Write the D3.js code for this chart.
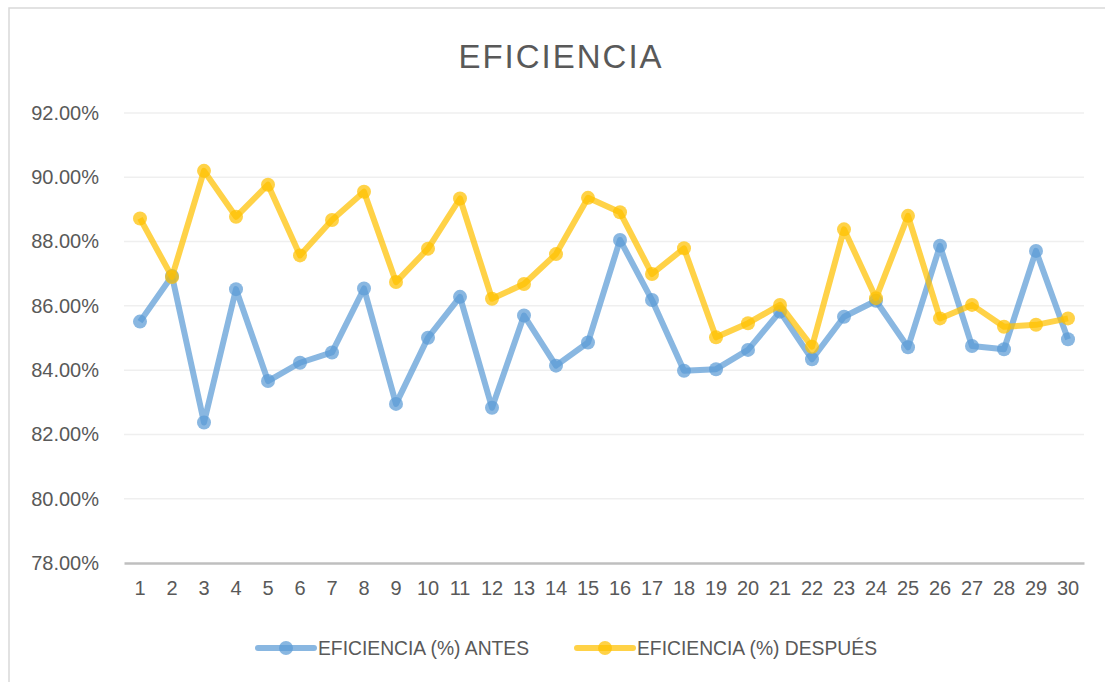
<!DOCTYPE html>
<html>
<head>
<meta charset="utf-8">
<script src="https://cdn.jsdelivr.net/npm/d3@7"></script>
<style>
  body { margin: 0; background: #fff; }
  svg { display: block; font-family: "Liberation Sans", "Open Sans", sans-serif; }
</style>
</head>
<body>
<svg id="chart" width="1105" height="682"></svg>
<script>
// muestras 1..30
let samples = d3.range(1, 31);
let antes = [85.51, 86.93, 82.37, 86.52, 83.66, 84.23, 84.55, 86.54, 82.95, 85.01,
             86.28, 82.83, 85.70, 84.14, 84.86, 88.05, 86.18, 83.98, 84.03, 84.63,
             85.82, 84.34, 85.66, 86.16, 84.71, 87.87, 84.75, 84.65, 87.71, 84.96];
let despues = [88.72, 86.90, 90.20, 88.77, 89.77, 87.57, 88.67, 89.55, 86.74, 87.78,
               89.34, 86.22, 86.68, 87.61, 89.36, 88.91, 86.99, 87.79, 85.02, 85.46,
               86.03, 84.73, 88.38, 86.24, 88.80, 85.61, 86.03, 85.35, 85.41, 85.61];
let yTicks = [78, 80, 82, 84, 86, 88, 90, 92];
let seriesNames = ["EFICIENCIA (%) ANTES", "EFICIENCIA (%) DESPUÉS"];
let seriesColors = ["rgba(91,155,213,0.72)", "rgba(255,192,0,0.72)"];

let plotLeft = 124, plotRight = 1084, plotTop = 113, plotBottom = 563;

let chart = d3.select("#chart");

// marco
chart.append("rect")
  .attr("x", 9).attr("y", 8)
  .attr("width", 1110).attr("height", 700)
  .attr("fill", "none")
  .attr("stroke", "#d9d9d9")
  .attr("stroke-width", 1.5);

let x = d3.scaleBand()
  .domain(samples)
  .range([plotLeft, plotRight]);

let y = d3.scaleLinear()
  .domain([78, 92])
  .range([plotBottom, plotTop]);

// rejilla
chart.append("g")
  .selectAll("line")
  .data(yTicks.slice(1))
  .enter()
  .append("line")
  .attr("x1", plotLeft).attr("x2", plotRight)
  .attr("y1", d => y(d)).attr("y2", d => y(d))
  .attr("stroke", "#efefef")
  .attr("stroke-width", 1.5);

// eje Y
let yAxis = chart.append("g")
  .attr("transform", `translate(${plotLeft - 22},0)`)
  .call(d3.axisLeft(y).tickValues(yTicks).tickSize(0).tickFormat(d => d.toFixed(2) + "%"));
yAxis.select(".domain").remove();
yAxis.selectAll("text")
  .attr("fill", "#595959")
  .attr("font-size", "20px");

// eje X
let xAxis = chart.append("g")
  .attr("transform", `translate(0,${plotBottom})`)
  .call(d3.axisBottom(x).tickSize(0));
xAxis.select(".domain")
  .attr("stroke", "#bfbfbf")
  .attr("stroke-width", 2.5);
xAxis.selectAll("text")
  .attr("fill", "#595959")
  .attr("font-size", "20px")
  .attr("dy", "1.45em");

// series
let line = d3.line()
  .x((d, i) => x(samples[i]) + x.bandwidth() / 2)
  .y(d => y(d));

[antes, despues].forEach((values, s) => {
  let g = chart.append("g").attr("class", "series");
  g.append("path")
    .datum(values)
    .attr("d", line)
    .attr("fill", "none")
    .attr("stroke", seriesColors[s])
    .attr("stroke-width", 6)
    .attr("stroke-linejoin", "round");
  g.selectAll("circle")
    .data(values)
    .enter()
    .append("circle")
    .attr("cx", (d, i) => x(samples[i]) + x.bandwidth() / 2)
    .attr("cy", d => y(d))
    .attr("r", 7)
    .attr("fill", seriesColors[s]);
});

// titulo
chart.append("text")
  .attr("x", 561).attr("y", 68)
  .attr("text-anchor", "middle")
  .attr("fill", "#595959")
  .attr("font-size", "33px")
  .attr("letter-spacing", "2px")
  .text("EFICIENCIA");

// leyenda
let legendX = [258, 577];
seriesNames.forEach((name, s) => {
  let lg = chart.append("g").attr("transform", `translate(${legendX[s]},648)`);
  lg.append("line")
    .attr("x1", 0).attr("x2", 56)
    .attr("stroke", seriesColors[s])
    .attr("stroke-width", 6)
    .attr("stroke-linecap", "round");
  lg.append("circle")
    .attr("cx", 28).attr("r", 7)
    .attr("fill", seriesColors[s]);
  lg.append("text")
    .attr("x", 60).attr("y", 7)
    .attr("fill", "#595959")
    .attr("font-size", "19.3px")
    .text(name);
});
</script>
</body>
</html>
